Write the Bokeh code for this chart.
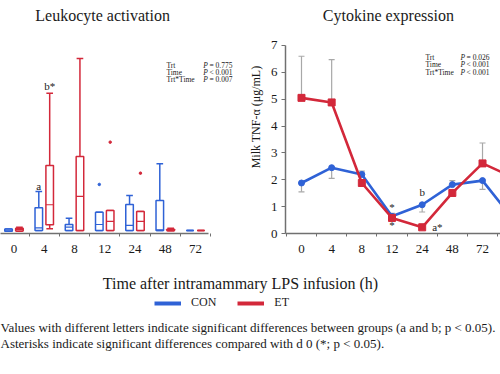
import numpy as np
from bokeh.plotting import figure
from bokeh.models import (FixedTicker, Label, Legend, LegendItem, Range1d)
from bokeh.layouts import row, column
from bokeh.embed import file_html
from bokeh.resources import INLINE

FONT = "Liberation Serif"
BLUE = "#2F62D6"
RED = "#D3283A"
GREY = "#A8A8A8"
AXIS = "#707070"
TXT = "#1a1a1a"

# ---------------- data: leukocyte activation (box plots) ----------------
box_categories = ["0", "4", "8", "12", "24", "48", "72"]
con_lo = [1.2, 1.6, 1.6, 1.6, 1.6, 1.6, 1.6]
con_q1 = [1.2, 1.6, 1.6, 1.6, 1.6, 1.6, 1.6]
con_med = [1.8, 3.0, 3.4, 4.8, 4.3, 2.0, 1.6]
con_q3 = [2.4, 13.7, 4.8, 11.3, 15.4, 17.6, 1.6]
con_hi = [2.4, 22.3, 8.1, 11.3, 20.2, 37.1, 1.6]
con_out_cat = ["12"]
con_out_val = [26.1]

et_lo = [1.2, 2.5, 1.6, 1.6, 1.6, 1.4, 1.6]
et_q1 = [1.3, 4.6, 1.6, 1.6, 1.6, 1.5, 1.6]
et_med = [2.2, 15.3, 19.7, 6.5, 6.5, 1.8, 1.6]
et_q3 = [2.8, 36.2, 41.0, 12.2, 11.7, 2.2, 1.6]
et_hi = [3.3, 74.6, 93.1, 12.2, 11.7, 2.8, 1.6]
et_out_cat = ["12", "24"]
et_out_val = [48.6, 32.1]

# ---------------- data: cytokine expression (TNF-alpha) ----------------
tnf_categories = ["0", "4", "8", "12", "24", "48", "72", "96"]
con_tnf = [1.88, 2.45, 2.20, 0.64, 1.07, 1.82, 1.97, 0.55]
con_se = [0.33, 0.40, 0.12, 0.11, 0.27, 0.15, 0.33, 0.20]
con_dir = [-1, -1, 1, 1, -1, 1, -1, -1]
et_tnf = [5.05, 4.88, 1.88, 0.58, 0.23, 1.51, 2.61, 2.10]
et_se = [1.55, 1.59, 0.10, 0.10, 0.12, 0.12, 0.76, 0.30]
et_dir = [1, 1, -1, -1, 1, -1, 1, 1]

left_stats = [("Trt", "= 0.775"), ("Time", "< 0.001"), ("Trt*Time", "= 0.007")]
right_stats = [("Trt", "= 0.026"), ("Time", "< 0.001"), ("Trt*Time", "< 0.001")]


def style_xaxis(p, cats, bounds):
    ax = p.xaxis[0]
    n = len(cats)
    ax.ticker = FixedTicker(ticks=list(range(n)),
                            minor_ticks=[i - 0.5 for i in range(n + 1)])
    ax.bounds = bounds
    ax.major_label_overrides = {i: c for i, c in enumerate(cats)}
    ax.major_tick_line_color = None
    ax.major_tick_out = 0
    ax.major_tick_in = 0
    ax.minor_tick_out = 3
    ax.minor_tick_in = 0
    ax.minor_tick_line_color = AXIS
    ax.axis_line_color = AXIS
    ax.axis_line_width = 1.5
    ax.major_label_text_font = FONT
    ax.major_label_text_font_size = "13px"
    ax.major_label_text_color = TXT
    ax.major_label_standoff = 8


def add_text(p, x, y, text, size="11px", align="left", style="normal", **kw):
    p.add_layout(Label(x=x, y=y, text=text, text_font=FONT, text_font_size=size,
                       text_font_style=style, text_align=align, text_baseline="middle",
                       text_color=TXT, **kw))


def add_stats(p, stats, x_name, x_p, dx, ys):
    for (name, val), yy in zip(stats, ys):
        add_text(p, x_name, yy, name, size="7.5px")
        add_text(p, x_p, yy, "P", size="7.5px", style="italic")
        add_text(p, x_p + dx, yy, val, size="7.5px")


# ---------------- left panel ----------------
pL = figure(frame_width=245, frame_height=233,
            x_range=Range1d(-0.446, 7.653), y_range=Range1d(0, 123.94),
            output_backend="svg", toolbar_location=None, y_axis_location=None,
            min_border_left=0, min_border_right=0, min_border_top=0, min_border_bottom=29)
pL.outline_line_color = None
pL.grid.visible = False
style_xaxis(pL, box_categories, (-0.446, 6.43))

OFF = 0.18
BW = 0.25
CW = 0.22
for color, sign, lo, q1, med, q3, hi, oc, ov in [
    (BLUE, -1, con_lo, con_q1, con_med, con_q3, con_hi, con_out_cat, con_out_val),
    (RED, 1, et_lo, et_q1, et_med, et_q3, et_hi, et_out_cat, et_out_val),
]:
    xs = [i + sign * OFF for i in range(len(box_categories))]
    pL.segment(x0=xs, y0=q3, x1=xs, y1=hi, line_color=color, line_width=1.5)
    pL.segment(x0=xs, y0=lo, x1=xs, y1=q1, line_color=color, line_width=1.5)
    pL.segment(x0=[x - CW / 2 for x in xs], y0=hi, x1=[x + CW / 2 for x in xs], y1=hi,
               line_color=color, line_width=1.5)
    pL.segment(x0=[x - CW / 2 for x in xs], y0=lo, x1=[x + CW / 2 for x in xs], y1=lo,
               line_color=color, line_width=1.5)
    pL.vbar(x=xs, width=BW, bottom=q1, top=q3, fill_color="white",
            line_color=color, line_width=1.5)
    pL.segment(x0=[x - BW / 2 for x in xs], y0=med, x1=[x + BW / 2 for x in xs], y1=med,
               line_color=color, line_width=1.2)
    ox = [box_categories.index(c) + sign * OFF for c in oc]
    pL.scatter(x=ox, y=ov, size=2.5, color=color, marker="circle")

add_text(pL, 2.93, 116, "Leukocyte activation", size="16px", align="center")
add_text(pL, 1 - OFF, 25.5, "a", align="center")
add_text(pL, 1 + OFF, 78.7, "b*", align="center")
add_stats(pL, left_stats, 5.04, 6.26, 0.2, [89.4, 85.6, 81.9])

# ---------------- right panel ----------------
pR = figure(frame_width=215, frame_height=233,
            x_range=Range1d(-0.53, 6.596), y_range=Range1d(0, 8.675),
            output_backend="svg", toolbar_location=None,
            min_border_left=40, min_border_right=0, min_border_top=0, min_border_bottom=29)
pR.outline_line_color = None
pR.grid.visible = False
style_xaxis(pR, tnf_categories, (-0.53, 6.596))
ya = pR.yaxis[0]
ya.ticker = FixedTicker(ticks=list(range(0, 8)))
ya.bounds = (0, 7)
ya.major_tick_out = 4
ya.major_tick_in = 0
ya.minor_tick_line_color = None
ya.major_tick_line_color = AXIS
ya.axis_line_color = AXIS
ya.axis_line_width = 1.5
ya.major_label_text_font = FONT
ya.major_label_text_font_size = "13px"
ya.major_label_text_color = TXT
ya.major_label_standoff = 4
ya.axis_label = "Milk TNF-α (μg/mL)"
ya.axis_label_text_font = FONT
ya.axis_label_text_font_style = "normal"
ya.axis_label_text_font_size = "12px"
ya.axis_label_text_color = TXT
ya.axis_label_standoff = 5

xi = list(range(len(tnf_categories)))
for vals, se, dr in [(con_tnf, con_se, con_dir), (et_tnf, et_se, et_dir)]:
    ends = [v + d * s for v, s, d in zip(vals, se, dr)]
    pR.segment(x0=xi, y0=vals, x1=xi, y1=ends, line_color=GREY, line_width=1.2)
    pR.scatter(x=xi, y=ends, marker="dash", size=6, line_color=GREY, line_width=1.2)

pR.line(xi, con_tnf, line_color=BLUE, line_width=2.6)
pR.scatter(xi, con_tnf, marker="circle", size=6, color=BLUE)
pR.line(xi, et_tnf, line_color=RED, line_width=2.6)
pR.scatter(xi, et_tnf, marker="square", size=7, color=RED)

add_text(pR, 2.88, 8.12, "Cytokine expression", size="16px", align="center")
add_text(pR, 4, 1.53, "b", align="center")
add_text(pR, 4.33, 0.26, "a*")
add_text(pR, 3, 1.0, "*", align="center")
add_text(pR, 3, 0.3, "*", align="center")
add_stats(pR, right_stats, 4.11, 5.27, 0.2, [6.55, 6.29, 5.99])

# ---------------- bottom: axis title, legend, footnote ----------------
pB = figure(width=500, height=112, x_range=Range1d(0, 500), y_range=Range1d(0, 112),
            output_backend="svg", toolbar_location=None,
            x_axis_location=None, y_axis_location=None, min_border=0)
pB.outline_line_color = None
pB.grid.visible = False
add_text(pB, 240, 91, "Time after intramammary LPS infusion (h)", size="16px", align="center")
r1 = pB.line(x=[0, 0], y=[-10, -10], line_color=BLUE, line_width=4)
r2 = pB.line(x=[0, 0], y=[-10, -10], line_color=RED, line_width=4)
legend = Legend(items=[LegendItem(label="CON", renderers=[r1]),
                       LegendItem(label="ET", renderers=[r2])],
                location=(154, 64), orientation="horizontal",
                glyph_width=27, glyph_height=14, label_height=14,
                label_standoff=10, spacing=21, padding=0, margin=0,
                border_line_color=None, background_fill_alpha=0,
                label_text_font=FONT, label_text_font_size="12px",
                label_text_color=TXT)
pB.add_layout(legend)
add_text(pB, 0, 47, "Values with different letters indicate significant differences "
         "between groups (a and b; p < 0.05).", size="13px")
add_text(pB, 0, 31, "Asterisks indicate significant differences compared with d 0 "
         "(*; p < 0.05).", size="13px")

layout = column(row(pL, pR), pB)
open("out.html", "w").write(file_html(layout, INLINE))
